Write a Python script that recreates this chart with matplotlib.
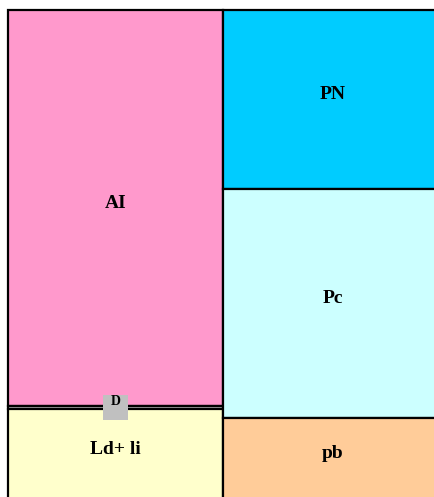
import matplotlib
matplotlib.use("Agg")
import matplotlib.pyplot as plt
from matplotlib.patches import Rectangle

# Data
left_labels = ["AI", "D", "Ld+ li"]
left_values = [40.03, 0.30, 9.10]
left_colors = ["#FF99CC", "#C0C0C0", "#FFFFCC"]
right_labels = ["PN", "Pc", "pb"]
right_values = [18.51, 23.68, 8.38]
right_colors = ["#00CCFF", "#CCFFFF", "#FFCC99"]

W, H = 435, 497
fig = plt.figure(figsize=(W / 100, H / 100), dpi=100)
ax = fig.add_axes([0, 0, 1, 1])
ax.set_xlim(0, W)
ax.set_ylim(H, 0)
ax.axis("off")

# treemap frame (extends past the figure edges as in reference)
x0, y0, tw, th = 8, 10, 435, 489
total = sum(left_values) + sum(right_values)
font = dict(family="Liberation Serif", fontweight="bold", fontsize=14, color="black")

cx = x0
for labels, values, colors in [(left_labels, left_values, left_colors),
                               (right_labels, right_values, right_colors)]:
    colw = tw * sum(values) / total
    cy = y0
    for lab, v, c in zip(labels, values, colors):
        h = th * v / sum(values)
        ax.add_patch(Rectangle((cx, cy), colw, h, facecolor=c, edgecolor="black",
                               linewidth=1.6, zorder=2))
        if lab == "D":
            bw = 25
            ax.add_patch(Rectangle((cx + colw / 2 - bw / 2, cy + h / 2 - bw / 2), bw, bw,
                                   facecolor=c, edgecolor="none", zorder=4))
            ax.text(cx + colw / 2, cy + h / 2 - 6, lab, ha="center", va="center",
                    zorder=5, **dict(font, fontsize=10))
        else:
            ax.text(cx + colw / 2, cy + h / 2 - 4.5, lab, ha="center", va="center",
                    zorder=5, **font)
        cy += h
    cx += colw

fig.savefig("out.png", dpi=100)
